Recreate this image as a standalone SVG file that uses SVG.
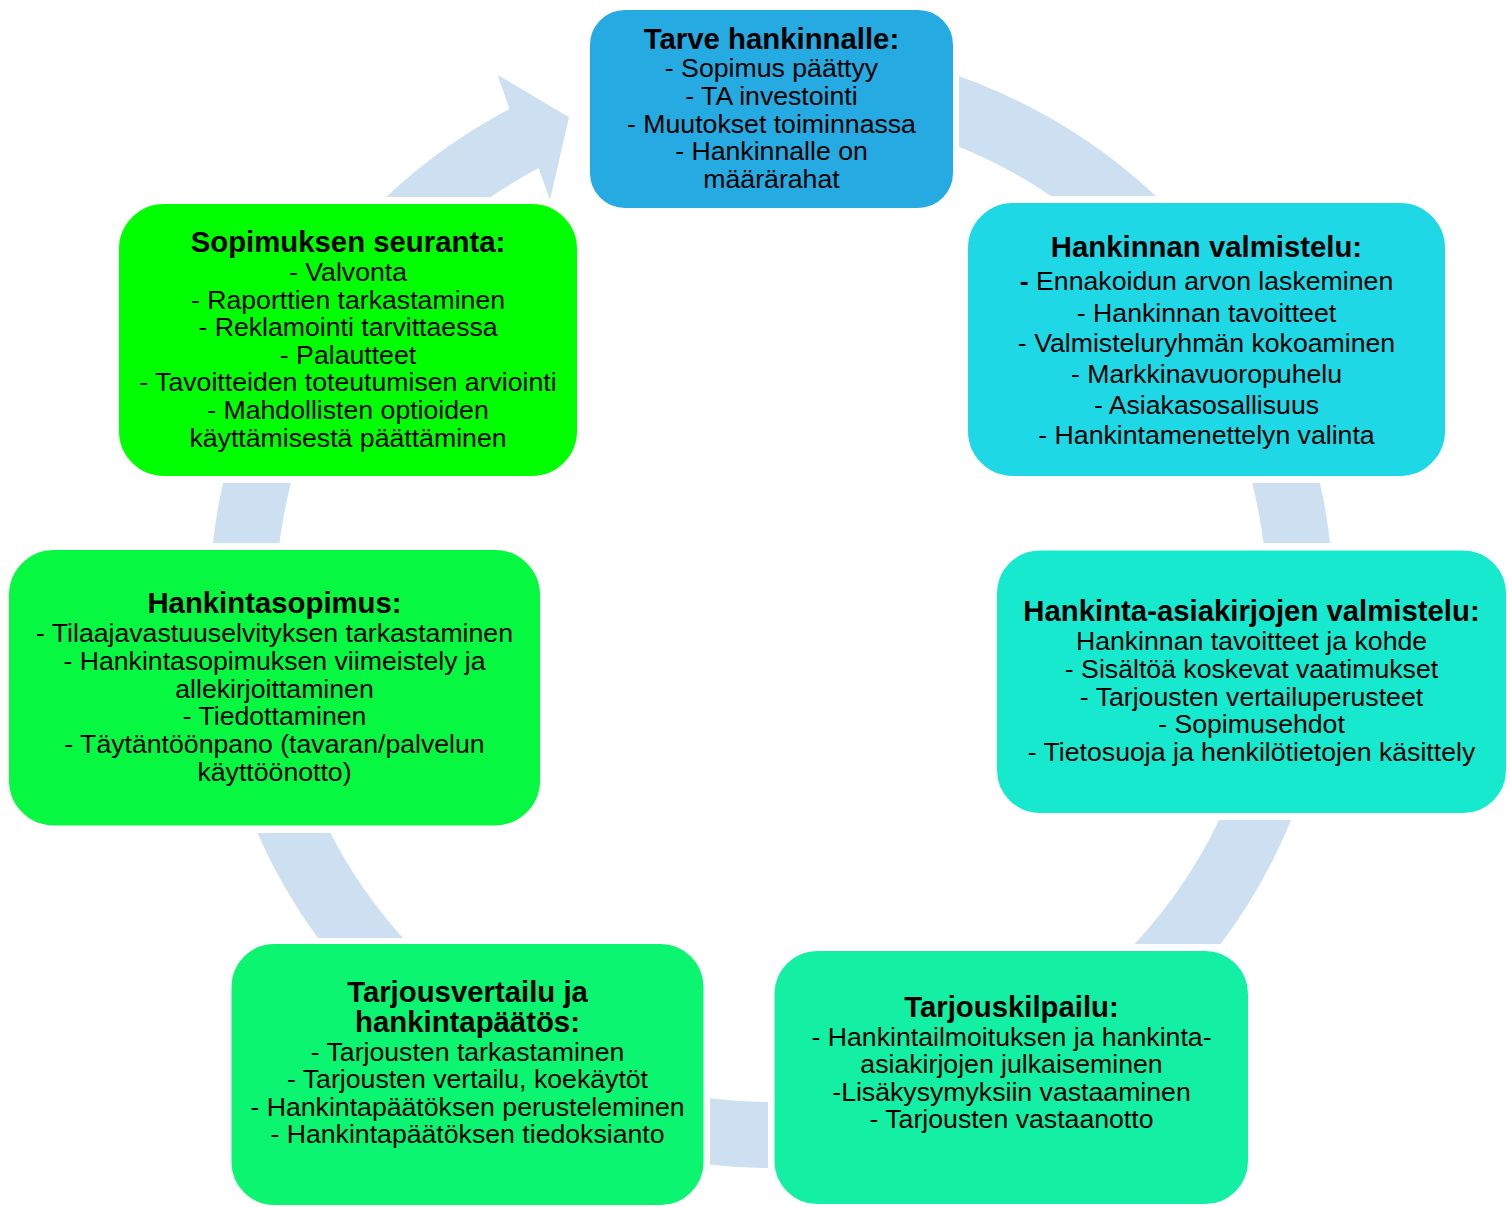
<svg xmlns="http://www.w3.org/2000/svg" width="1510" height="1207" viewBox="0 0 1510 1207">
<style>
  .bg { fill: #ffffff; }
  .ring { fill: none; stroke: #CDE0F2; stroke-width: 66; }
  .arrow { fill: #CDE0F2; }
  .box { stroke: #ffffff; stroke-width: 2; }
  .t { font-family: "Liberation Sans", Arial, sans-serif; font-size: 26.67px; text-anchor: middle; fill: #000000; }
  .h { font-weight: bold; font-size: 29.33px; }
  .bd { font-weight: bold; }
</style>
<defs>
  <clipPath id="gaps">
    <rect x="959" y="0" width="551" height="196"/>
    <rect x="1100" y="483" width="410" height="60"/>
    <rect x="1000" y="820" width="510" height="124"/>
    <rect x="710" y="1000" width="58" height="207"/>
    <rect x="0" y="833" width="700" height="105"/>
    <rect x="0" y="483" width="500" height="60"/>
  </clipPath>
</defs>
<rect class="bg" x="0" y="0" width="1510" height="1207"/>
<g id="connectors">
  <circle class="ring" cx="771.5" cy="606" r="529" clip-path="url(#gaps)"/>
  <path class="arrow" d="M386.1,197 A562,562 0 0 1 509.4,108.9 L497.7,75 L569,117.3 L550,200 L538.6,168.1 A496,496 0 0 0 490.9,197 Z"/>
</g>
<g id="node-tarve">
  <rect class="box" x="589" y="9" width="365" height="200" rx="36" fill="#25AAE1"/>
  <text class="t h" x="771.5" y="49">Tarve hankinnalle:</text>
  <text class="t" x="771.5" y="77">- Sopimus päättyy</text>
  <text class="t" x="771.5" y="105">- TA investointi</text>
  <text class="t" x="771.5" y="132.5">- Muutokset toiminnassa</text>
  <text class="t" x="771.5" y="160">- Hankinnalle on</text>
  <text class="t" x="771.5" y="187.5">määrärahat</text>
</g>
<g id="node-valmistelu">
  <rect class="box" x="967" y="202" width="479" height="275" rx="46" fill="#1ED8E6"/>
  <text class="t h" x="1206.5" y="257">Hankinnan valmistelu:</text>
  <text class="t" x="1206.5" y="290"><tspan class="bd">-</tspan> Ennakoidun arvon laskeminen</text>
  <text class="t" x="1206.5" y="322">- Hankinnan tavoitteet</text>
  <text class="t" x="1206.5" y="352">- Valmisteluryhmän kokoaminen</text>
  <text class="t" x="1206.5" y="383">- Markkinavuoropuhelu</text>
  <text class="t" x="1206.5" y="413.5">- Asiakasosallisuus</text>
  <text class="t" x="1206.5" y="443.5">- Hankintamenettelyn valinta</text>
</g>
<g id="node-asiakirjat">
  <rect class="box" x="996" y="549.5" width="511" height="264.5" rx="44" fill="#17E9CF"/>
  <text class="t h" x="1251.5" y="621">Hankinta-asiakirjojen valmistelu:</text>
  <text class="t" x="1251.5" y="650">Hankinnan tavoitteet ja kohde</text>
  <text class="t" x="1251.5" y="677.5">- Sisältöä koskevat vaatimukset</text>
  <text class="t" x="1251.5" y="705.5">- Tarjousten vertailuperusteet</text>
  <text class="t" x="1251.5" y="733.3">- Sopimusehdot</text>
  <text class="t" x="1251.5" y="761">- Tietosuoja ja henkilötietojen käsittely</text>
</g>
<g id="node-tarjouskilpailu">
  <rect class="box" x="773.5" y="950" width="475.5" height="255" rx="44" fill="#14F0A3"/>
  <text class="t h" x="1011.5" y="1017">Tarjouskilpailu:</text>
  <text class="t" x="1011.5" y="1045.7">- Hankintailmoituksen ja hankinta-</text>
  <text class="t" x="1011.5" y="1073.3">asiakirjojen julkaiseminen</text>
  <text class="t" x="1011.5" y="1101">-Lisäkysymyksiin vastaaminen</text>
  <text class="t" x="1011.5" y="1128.3">- Tarjousten vastaanotto</text>
</g>
<g id="node-tarjousvertailu">
  <rect class="box" x="230.5" y="943" width="474" height="263" rx="44" fill="#0BF570"/>
  <text class="t h" x="467.5" y="1001.7">Tarjousvertailu ja</text>
  <text class="t h" x="467.5" y="1031.7">hankintapäätös:</text>
  <text class="t" x="467.5" y="1060.7">- Tarjousten tarkastaminen</text>
  <text class="t" x="467.5" y="1088.3">- Tarjousten vertailu, koekäytöt</text>
  <text class="t" x="467.5" y="1116">- Hankintapäätöksen perusteleminen</text>
  <text class="t" x="467.5" y="1143.3">- Hankintapäätöksen tiedoksianto</text>
</g>
<g id="node-hankintasopimus">
  <rect class="box" x="8" y="549" width="533" height="277.5" rx="46" fill="#06F940"/>
  <text class="t h" x="274.5" y="613">Hankintasopimus:</text>
  <text class="t" x="274.5" y="641.5">- Tilaajavastuuselvityksen tarkastaminen</text>
  <text class="t" x="274.5" y="669.5">- Hankintasopimuksen viimeistely ja</text>
  <text class="t" x="274.5" y="697.5">allekirjoittaminen</text>
  <text class="t" x="274.5" y="725">- Tiedottaminen</text>
  <text class="t" x="274.5" y="753">- Täytäntöönpano (tavaran/palvelun</text>
  <text class="t" x="274.5" y="781">käyttöönotto)</text>
</g>
<g id="node-seuranta">
  <rect class="box" x="118" y="203" width="460" height="274" rx="46" fill="#00FF00"/>
  <text class="t h" x="348" y="252">Sopimuksen seuranta:</text>
  <text class="t" x="348" y="281">- Valvonta</text>
  <text class="t" x="348" y="309">- Raporttien tarkastaminen</text>
  <text class="t" x="348" y="336">- Reklamointi tarvittaessa</text>
  <text class="t" x="348" y="364">- Palautteet</text>
  <text class="t" x="348" y="391">- Tavoitteiden toteutumisen arviointi</text>
  <text class="t" x="348" y="419">- Mahdollisten optioiden</text>
  <text class="t" x="348" y="447">käyttämisestä päättäminen</text>
</g>
</svg>
